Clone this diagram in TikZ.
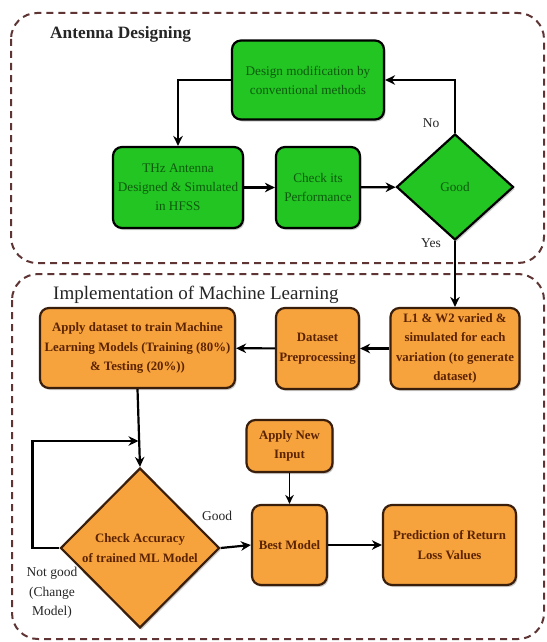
\documentclass[tikz,border=0pt]{standalone}
\usepackage{fontspec}
\setmainfont{Liberation Serif}
\usetikzlibrary{arrows.meta,shapes.geometric,shadows}
\definecolor{gfill}{RGB}{34,197,34}
\definecolor{gtext}{RGB}{14,90,14}
\definecolor{ofill}{RGB}{246,163,62}
\definecolor{otext}{RGB}{92,35,0}
\definecolor{oborder}{RGB}{58,30,12}
\definecolor{dashc}{RGB}{94,52,52}
\tikzset{
  shad/.style={drop shadow={shadow xshift=1.5pt, shadow yshift=-2pt, opacity=0.2, fill=black}},
  gbox/.style={shad, draw=black, line width=2.2pt, fill=gfill, rounded corners=9pt, align=center, text=gtext, inner sep=1pt, font=\fontsize{13.2}{19}\selectfont},
  obox/.style={shad, draw=oborder, line width=2.2pt, fill=ofill, rounded corners=9pt, align=center, text=otext, inner sep=1pt, font=\bfseries\fontsize{12.8}{19.5}\selectfont},
  gdia/.style={shad, draw=black, line width=2.2pt, fill=gfill, diamond, aspect=1, inner sep=0pt, text=gtext, font=\fontsize{13.2}{19}\selectfont},
  odia/.style={shad, draw=oborder, line width=2.2pt, fill=ofill, diamond, aspect=1, inner sep=0pt, align=center, text=otext, font=\bfseries\fontsize{12.8}{20}\selectfont},
  arr/.style={line width=2.2pt, -{Stealth[length=10pt,width=9.5pt]}},
  thinarr/.style={line width=1.6pt, -{Stealth[length=9pt,width=8.5pt]}},
  group/.style={draw=dashc, line width=2pt, dash pattern=on 7pt off 5pt, rounded corners=26pt},
  lbl/.style={font=\fontsize{13.5}{19.5}\selectfont, text=black!85, align=center, inner sep=0pt}
}
\begin{document}
\begin{tikzpicture}[x=1pt,y=-1pt]
\fill[white] (0,0) rectangle (546,642);
\useasboundingbox (0,0) rectangle (546,642);
% groups
\draw[group] (11,13) rectangle (544,263);
\draw[group] (12,274) rectangle (544,639);
\node[anchor=west, inner sep=0pt, font=\bfseries\fontsize{17.3}{20}\selectfont, text=black!85] (t1) at (50,34) {Antenna Designing};
\node[anchor=west, inner sep=0pt, font=\fontsize{19}{22}\selectfont, text=black!85] (t2) at (53,295) {Implementation of Machine Learning};
% green nodes
\node[gbox, minimum width=152pt, minimum height=79pt] (design) at (308,80) {Design modification by\\conventional methods};
\node[gbox, minimum width=130pt, minimum height=81pt] (thz) at (178,187.5) {THz Antenna\\Designed \& Simulated\\in HFSS};
\node[gbox, minimum width=84pt, minimum height=81pt] (check) at (318,187.5) {Check its\\Performance};
\node[gdia, minimum width=117pt, minimum height=106pt] (good) at (455,187) {Good};
% orange nodes
\node[obox, minimum width=129pt, minimum height=81pt] (l1) at (455,348.5) {L1 \& W2 varied \&\\simulated for each\\variation (to generate\\dataset)};
\node[obox, minimum width=83pt, minimum height=81pt] (prep) at (317.5,348.5) {Dataset\\Preprocessing};
\node[obox, minimum width=195pt, minimum height=80pt] (apply) at (137.5,348) {Apply dataset to train Machine\\Learning Models (Training (80\%)\\\& Testing (20\%))};
\node[obox, minimum width=86pt, minimum height=52pt] (newin) at (289.5,446) {Apply New\\Input};
\node[odia, minimum width=159pt, minimum height=160pt] (acc) at (140,548) {Check Accuracy\\of trained ML Model};
\node[obox, minimum width=75pt, minimum height=80pt] (best) at (289.5,545) {Best Model};
\node[obox, minimum width=133pt, minimum height=80pt] (pred) at (449.5,545) {Prediction of Return\\Loss Values};
% connectors
\draw[arr] (design.west) -| (thz.north);
\draw[arr] (good.north) |- (design.east);
\draw[arr] (thz) -- (check);
\draw[arr] (check) -- (good);
\draw[arr] (good.south) -- (l1.north);
\draw[arr] (l1) -- (prep);
\draw[arr] (prep) -- (apply);
\draw[arr] (apply.south) -- (acc.north);
\coordinate (loopc) at (32.5,441);
\coordinate (join) at (138.5,441);
\draw[arr] (acc.west) -- (acc.west -| loopc) -- (loopc) -- (join);
\draw[arr] (acc.east) -- (best.west);
\draw[thinarr] (newin.south) -- (best.north);
\draw[arr] (best) -- (pred);
% labels
\node[lbl] (no) at (431,123) {No};
\node[lbl] (yes) at (431,243) {Yes};
\node[lbl] (gd) at (217,516) {Good};
\node[lbl] (ng) at (52,593) {Not good\\(Change\\Model)};
\end{tikzpicture}
\end{document}
